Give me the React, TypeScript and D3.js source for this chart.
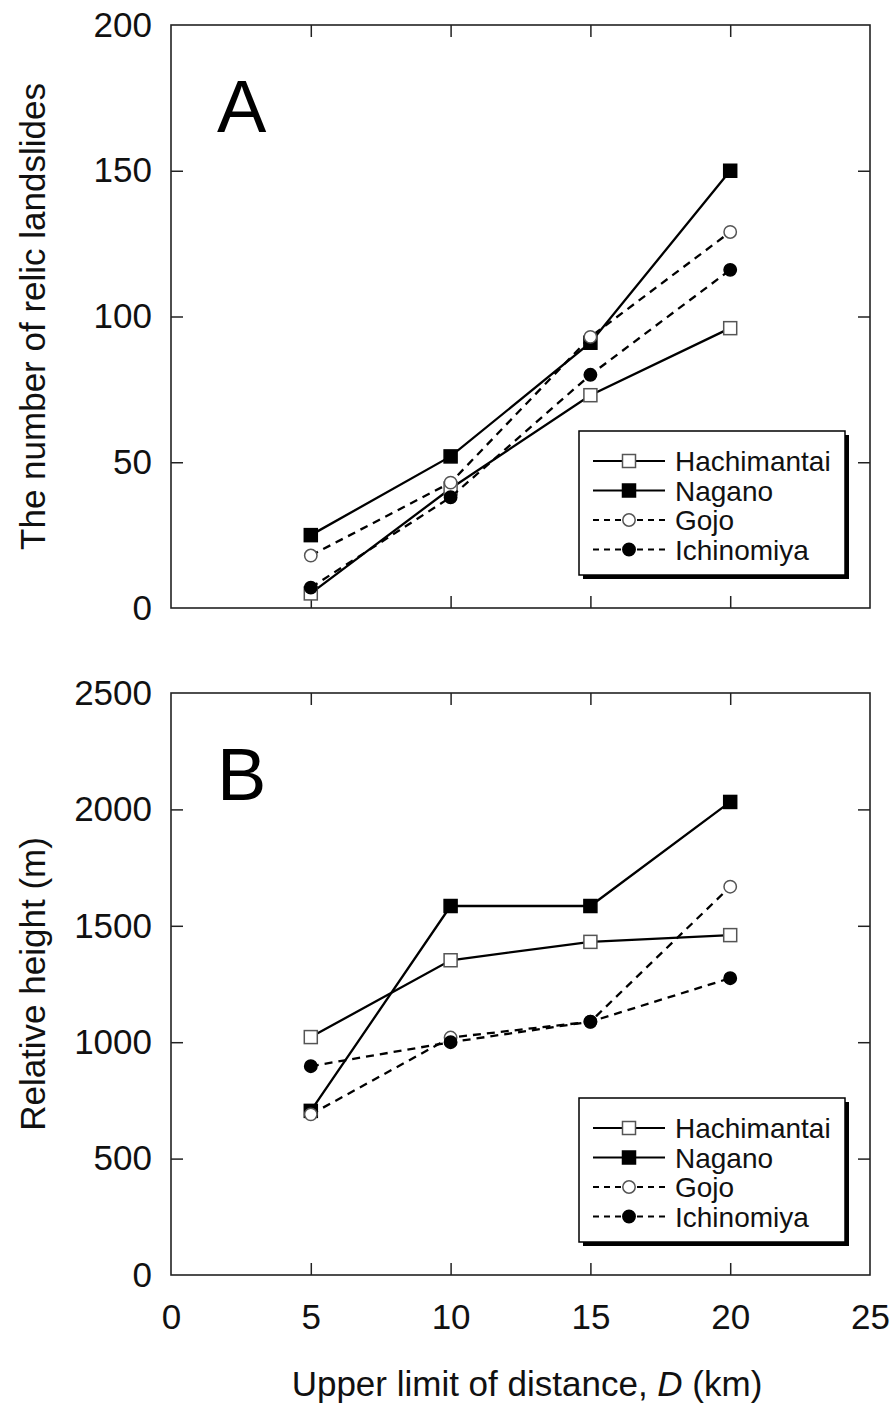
import * as d3 from "d3";
import React, { useEffect, useRef } from "react";

// distances (km)
const distances = [5, 10, 15, 20];
const seriesNames = ["Hachimantai", "Nagano", "Gojo", "Ichinomiya"];

// panel A: number of relic landslides
const countHachimantai = [5, 41, 73, 96];
const countNagano = [25, 52, 91, 150];
const countGojo = [18, 43, 93, 129];
const countIchinomiya = [7, 38, 80, 116];

// panel B: relative height (m)
const heightHachimantai = [1022, 1352, 1431, 1460];
const heightNagano = [705, 1585, 1585, 2032];
const heightGojo = [690, 1020, 1088, 1668];
const heightIchinomiya = [897, 1000, 1088, 1275];

const xTicks = [0, 5, 10, 15, 20, 25];
const yTicksA = [0, 50, 100, 150, 200];
const yTicksB = [0, 500, 1000, 1500, 2000, 2500];

const FONT = "'Liberation Sans', Arial, Helvetica, sans-serif";

// style per series: solid/dashed, square/circle, filled/open
const styles = [
  { dash: null, shape: "square", fill: "#fff" },
  { dash: null, shape: "square", fill: "#000" },
  { dash: "8,6", shape: "circle", fill: "#fff" },
  { dash: "8,6", shape: "circle", fill: "#000" },
];

const App = () => {
  const ref = useRef<SVGSVGElement>(null);

  useEffect(() => {
    const svg = d3.select(ref.current);
    svg.selectAll("*").remove();

    const left = 171;
    const right = 870;
    const x = d3.scaleLinear().domain([0, 25]).range([left, right]);

    const drawMarker = (g: any, cx: number, cy: number, s: any) => {
      if (s.shape === "square") {
        g.append("rect")
          .attr("x", cx - 6.5)
          .attr("y", cy - 6.5)
          .attr("width", 13)
          .attr("height", 13)
          .attr("fill", s.fill)
          .attr("stroke", s.fill === "#fff" ? "#555" : "#000")
          .attr("stroke-width", 1.5);
      } else {
        g.append("circle")
          .attr("cx", cx)
          .attr("cy", cy)
          .attr("r", 6.2)
          .attr("fill", s.fill)
          .attr("stroke", s.fill === "#fff" ? "#555" : "#000")
          .attr("stroke-width", 1.5);
      }
    };

    const drawPanel = (
      top: number,
      bottom: number,
      yMax: number,
      yTicks: number[],
      data: number[][],
      letter: string,
      title: string,
      showX: boolean
    ) => {
      const y = d3.scaleLinear().domain([0, yMax]).range([bottom, top]);
      const g = svg.append("g");

      // frame
      g.append("rect")
        .attr("x", left)
        .attr("y", top)
        .attr("width", right - left)
        .attr("height", bottom - top)
        .attr("fill", "none")
        .attr("stroke", "#222")
        .attr("stroke-width", 1.6);

      const inner = xTicks.filter((t) => t > 0 && t < 25);
      const innerY = yTicks.filter((t) => t > 0 && t < yMax);

      const bx = g
        .append("g")
        .attr("transform", `translate(0,${bottom})`)
        .call(
          d3
            .axisBottom(x)
            .tickValues(showX ? xTicks : inner)
            .tickSize(-12)
            .tickPadding(29)
            .tickFormat(showX ? d3.format("d") : () => "")
        );
      bx.select(".domain").remove();
      bx.selectAll("line").filter((d: any) => d === 0 || d === 25).remove();

      const tx = g
        .append("g")
        .attr("transform", `translate(0,${top})`)
        .call(d3.axisTop(x).tickValues(inner).tickSize(-12).tickFormat(() => ""));
      tx.select(".domain").remove();

      const ly = g
        .append("g")
        .attr("transform", `translate(${left},0)`)
        .call(
          d3.axisLeft(y).tickValues(yTicks).tickSize(-12).tickPadding(19).tickFormat(d3.format("d"))
        );
      ly.select(".domain").remove();
      ly.selectAll("line").filter((d: any) => d === 0 || d === yMax).remove();

      const ry = g
        .append("g")
        .attr("transform", `translate(${right},0)`)
        .call(d3.axisRight(y).tickValues(innerY).tickSize(-12).tickFormat(() => ""));
      ry.select(".domain").remove();

      [bx, tx, ly, ry].forEach((a) => {
        a.attr("font-family", FONT).attr("font-size", 35);
        a.selectAll("line").attr("stroke", "#222").attr("stroke-width", 1.5);
        a.selectAll("text").attr("fill", "#111");
      });

      // y title
      g.append("text")
        .attr("transform", `translate(45,${(top + bottom) / 2}) rotate(-90)`)
        .attr("text-anchor", "middle")
        .attr("font-family", FONT)
        .attr("font-size", 35)
        .attr("fill", "#111")
        .text(title);

      // panel letter
      g.append("text")
        .attr("x", 217)
        .attr("y", top + 107)
        .attr("font-family", FONT)
        .attr("font-size", 74)
        .attr("fill", "#000")
        .text(letter);

      // series
      const line = d3
        .line<number>()
        .x((d, i) => x(distances[i]))
        .y((d) => y(d));

      data.forEach((vals, si) => {
        const s = styles[si];
        g.append("path")
          .datum(vals)
          .attr("fill", "none")
          .attr("stroke", "#000")
          .attr("stroke-width", 2.3)
          .attr("stroke-dasharray", s.dash)
          .attr("d", line);
        vals.forEach((v, i) => drawMarker(g, x(distances[i]), y(v), s));
      });

      // legend
      const lw = 266;
      const lh = 144;
      const lx = right - 25 - lw;
      const lyTop = bottom - 33 - lh;
      const leg = g.append("g").attr("transform", `translate(${lx},${lyTop})`);
      leg.append("rect").attr("x", 4).attr("y", 4).attr("width", lw).attr("height", lh).attr("fill", "#000");
      leg.append("rect")
        .attr("width", lw)
        .attr("height", lh)
        .attr("fill", "#fff")
        .attr("stroke", "#000")
        .attr("stroke-width", 1.5);
      seriesNames.forEach((name, i) => {
        const s = styles[i];
        const ry0 = 30 + i * 29.5;
        leg.append("line")
          .attr("x1", 14)
          .attr("x2", 86)
          .attr("y1", ry0)
          .attr("y2", ry0)
          .attr("stroke", "#000")
          .attr("stroke-width", 2)
          .attr("stroke-dasharray", s.dash ? "6,5" : null);
        drawMarker(leg, 50, ry0, s);
        leg.append("text")
          .attr("x", 96)
          .attr("y", ry0)
          .attr("dy", "0.36em")
          .attr("font-family", FONT)
          .attr("font-size", 28)
          .attr("fill", "#111")
          .text(name);
      });
    };

    drawPanel(
      25,
      608,
      200,
      yTicksA,
      [countHachimantai, countNagano, countGojo, countIchinomiya],
      "A",
      "The number of relic landslides",
      false
    );
    drawPanel(
      693,
      1275,
      2500,
      yTicksB,
      [heightHachimantai, heightNagano, heightGojo, heightIchinomiya],
      "B",
      "Relative height (m)",
      true
    );

    // x title
    const xt = svg
      .append("text")
      .attr("x", 527)
      .attr("y", 1396)
      .attr("text-anchor", "middle")
      .attr("font-family", FONT)
      .attr("font-size", 35)
      .attr("fill", "#111");
    xt.append("tspan").text("Upper limit of distance, ");
    xt.append("tspan").attr("font-style", "italic").text("D");
    xt.append("tspan").text(" (km)");
  }, []);

  return (
    <div>
      <svg
        ref={ref}
        width={893}
        height={1408}
        style={{ position: "absolute", left: 0, top: 0, background: "#fff" }}
      />
    </div>
  );
};

export default App;
